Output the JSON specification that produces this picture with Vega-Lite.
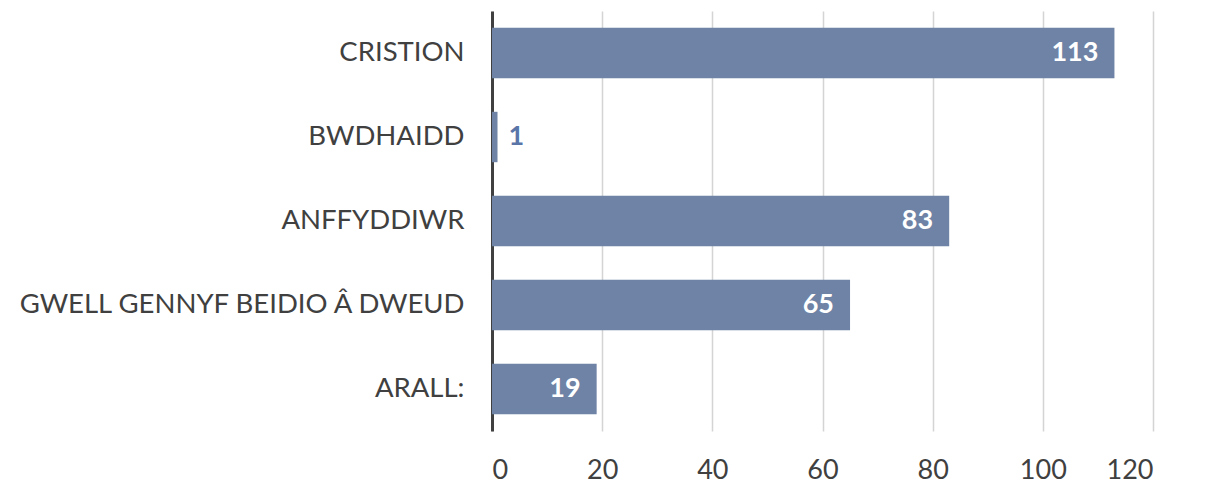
{
  "$schema": "https://vega.github.io/schema/vega-lite/v6.json",
  "autosize": "none",
  "width": 661,
  "height": 420,
  "padding": {"left": 492, "top": 11, "right": 57, "bottom": 73},
  "background": "white",
  "data": {"values": [
    {"category": "CRISTION", "value": 113},
    {"category": "BWDHAIDD", "value": 1},
    {"category": "ANFFYDDIWR", "value": 83},
    {"category": "GWELL GENNYF BEIDIO Â DWEUD", "value": 65},
    {"category": "ARALL:", "value": 19}
  ]},
  "config": {"view": {"stroke": null}, "font": "Lato"},
  "encoding": {
    "y": {"field": "category", "type": "nominal", "sort": null,
      "scale": {"paddingInner": 0.4, "paddingOuter": 0.2},
      "axis": {"title": null, "ticks": false, "domain": true, "domainColor": "#404040", "domainWidth": 3,
        "labelFontSize": 27.5, "labelColor": "#404040", "labelPadding": 28, "labelFont": "Lato", "labelLimit": 0}},
    "x": {"field": "value", "type": "quantitative",
      "scale": {"domain": [0, 120], "nice": false},
      "axis": {"title": null, "values": [0, 20, 40, 60, 80, 100, 120], "domain": false, "ticks": false,
        "grid": true, "gridColor": "#d4d4d4", "gridWidth": 1.5, "labelFontSize": 27, "labelColor": "#404040",
        "labelPadding": 26, "labelFont": "Lato"}}
  },
  "layer": [
    {"mark": {"type": "bar", "color": "#6e83a5"}},
    {"transform": [{"filter": "datum.value >= 10"}],
      "mark": {"type": "text", "align": "right", "baseline": "middle", "dx": -16, "color": "white", "fontWeight": "bold", "fontSize": 27},
      "encoding": {"text": {"field": "value", "type": "quantitative"}}},
    {"transform": [{"filter": "datum.value < 10"}],
      "mark": {"type": "text", "align": "left", "baseline": "middle", "dx": 11, "color": "#5a76a8", "fontWeight": "bold", "fontSize": 27},
      "encoding": {"text": {"field": "value", "type": "quantitative"}}}
  ]
}
